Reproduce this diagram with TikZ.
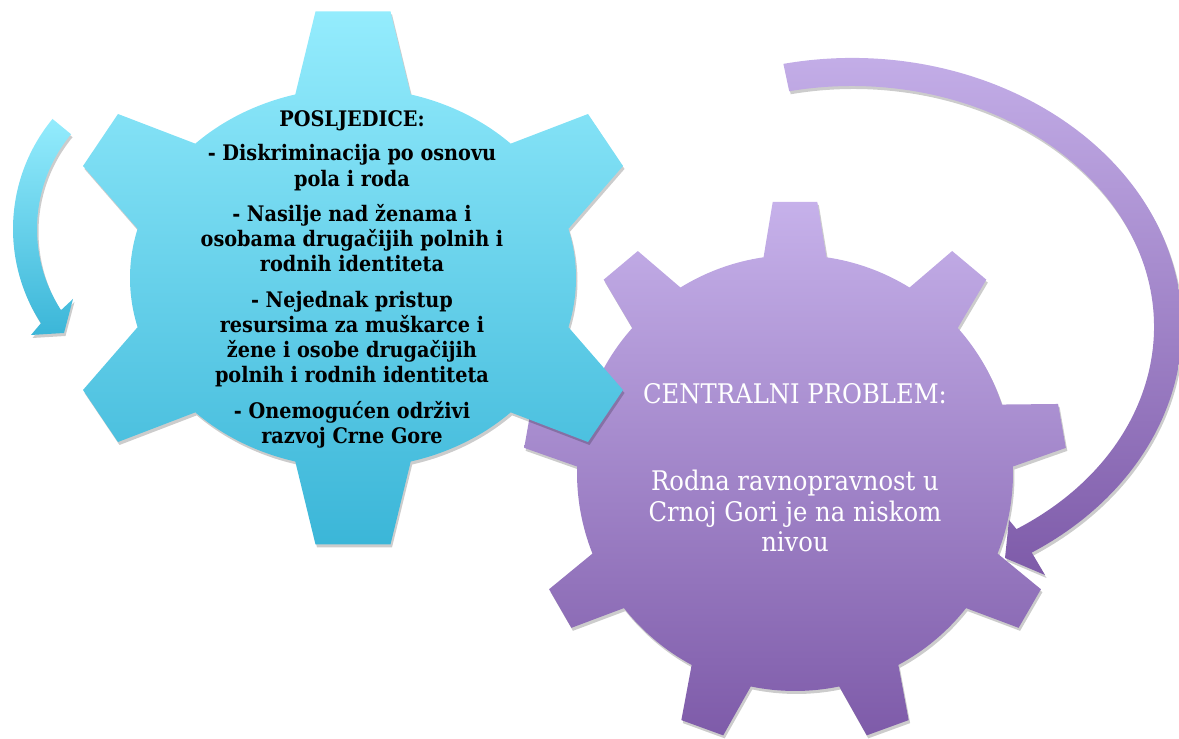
\documentclass[tikz,border=0pt]{standalone}
\usepackage{fontspec}
\newfontfamily\gearfont[FakeStretch=0.9]{DejaVu Serif}
\usetikzlibrary{shadows}

\begin{document}
\begin{tikzpicture}[x=1bp,y=1bp,line join=bevel,
  softshadow/.style={drop shadow={shadow xshift=1.5bp,shadow yshift=-3bp,opacity=.2,fill=black}},
  posline/.style={anchor=base,inner sep=0pt,text=black,font=\gearfont\bfseries\fontsize{21.4bp}{25bp}\selectfont},
  probline/.style={anchor=base,inner sep=0pt,text=white,font=\gearfont\fontsize{27bp}{31bp}\selectfont}]

\definecolor{cyantop}{RGB}{148,236,253}
\definecolor{cyanbot}{RGB}{59,182,216}
\definecolor{purptop}{RGB}{198,177,234}
\definecolor{purpbot}{RGB}{126,91,169}

\useasboundingbox (0,0) rectangle (1179,739);
\clip (0,0) rectangle (1179,739);

% Gear: CENTRALNI PROBLEM
\begin{scope}[shift={(795,266)}]
  \shade[softshadow,top color=purptop,bottom color=purpbot] (81.7:218)
    -- (85.3:272) -- (94.7:272) -- (98.3:218) arc[start angle=98.3,end angle=121.7,radius=218]
    -- (125.3:272) -- (134.7:272) -- (138.3:218) arc[start angle=138.3,end angle=161.7,radius=218]
    -- (165.3:272) -- (174.7:272) -- (178.3:218) arc[start angle=178.3,end angle=201.7,radius=218]
    -- (205.3:272) -- (214.7:272) -- (218.3:218) arc[start angle=218.3,end angle=241.7,radius=218]
    -- (245.3:272) -- (254.7:272) -- (258.3:218) arc[start angle=258.3,end angle=281.7,radius=218]
    -- (285.3:272) -- (294.7:272) -- (298.3:218) arc[start angle=298.3,end angle=321.7,radius=218]
    -- (325.3:272) -- (334.7:272) -- (338.3:218) arc[start angle=338.3,end angle=361.7,radius=218]
    -- (5.3:272) -- (14.7:272) -- (18.3:218) arc[start angle=18.3,end angle=41.7,radius=218]
    -- (45.3:272) -- (54.7:272) -- (58.3:218) arc[start angle=58.3,end angle=81.7,radius=218]
    -- cycle;
\end{scope}

% Gear: POSLJEDICE
\begin{scope}[shift={(353,461)}]
  \shade[softshadow,top color=cyantop,bottom color=cyanbot]
    (-15:223 and 190) arc[start angle=-15,end angle=15,x radius=223,y radius=190]
    -- (270,112) -- (235,164) -- (45:223 and 190) arc[start angle=45,end angle=75,x radius=223,y radius=190]
    -- (37.5,266.5) -- (-37.5,266.5) -- (105:223 and 190) arc[start angle=105,end angle=135,x radius=223,y radius=190]
    -- (-235,164) -- (-270,112) -- (165:223 and 190) arc[start angle=165,end angle=195,x radius=223,y radius=190]
    -- (-270,-112) -- (-235,-164) -- (225:223 and 190) arc[start angle=225,end angle=255,x radius=223,y radius=190]
    -- (-37.5,-266.5) -- (37.5,-266.5) -- (285:223 and 190) arc[start angle=285,end angle=315,x radius=223,y radius=190]
    -- (235,-164) -- (270,-112) -- cycle;
\end{scope}

% Arrow: around CENTRALNI PROBLEM
\begin{scope}[shift={(852,412)}]
  \shade[softshadow,top color=purptop,bottom color=purpbot]
    (102:330 and 269) arc[start angle=102,end angle=-57,x radius=330,y radius=269]
    -- (193,-248) -- (153,-231) -- (157,-193)
    -- (-57:302 and 241) arc[start angle=-57,end angle=102,x radius=302,y radius=241]
    -- cycle;
\end{scope}

% Arrow: beside POSLJEDICE
\begin{scope}[shift={(186,510)}]
  \shade[softshadow,top color=cyantop,bottom color=cyanbot]
    (140.5:173) arc[start angle=140.5,end angle=213,radius=173]
    -- (-155,-106) -- (-122,-104) -- (-113,-70)
    -- (213:149) arc[start angle=213,end angle=140.5,radius=149]
    -- cycle;
\end{scope}

% Text: POSLJEDICE
\node[posline] (P0) at (352,612.7) {POSLJEDICE:};
\node[posline] (P1) at (352,578.3) {- Diskriminacija po osnovu};
\node[posline] (P2) at (352,552.6) {pola i roda};
\node[posline] (P3) at (352,517) {- Nasilje nad ženama i};
\node[posline] (P4) at (352,492) {osobama drugačijih polnih i};
\node[posline] (P5) at (352,467) {rodnih identiteta};
\node[posline] (P6) at (352,431) {- Nejednak pristup};
\node[posline] (P7) at (352,406) {resursima za muškarce i};
\node[posline] (P8) at (352,381) {žene i osobe drugačijih};
\node[posline] (P9) at (352,356) {polnih i rodnih identiteta};
\node[posline] (P10) at (352,320) {- Onemogućen održivi};
\node[posline] (P11) at (352,295) {razvoj Crne Gore};

% Text: CENTRALNI PROBLEM
\node[probline] (C0) at (795,335) {CENTRALNI PROBLEM:};
\node[probline] (C1) at (795,248.6) {Rodna ravnopravnost u};
\node[probline] (C2) at (795,217.5) {Crnoj Gori je na niskom};
\node[probline] (C3) at (795,187) {nivou};
%
\end{tikzpicture}
\end{document}
